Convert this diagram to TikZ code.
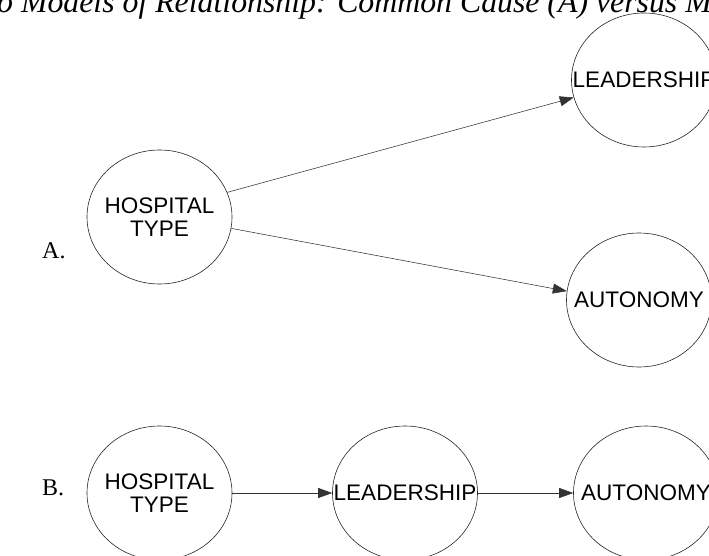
\documentclass[tikz,border=0pt]{standalone}
\usepackage{fontspec}
\setmainfont{Liberation Serif}
\newfontfamily\arialf{Liberation Sans}
\usetikzlibrary{shapes.geometric,arrows.meta}
\begin{document}
\begin{tikzpicture}[x=1pt,y=-1pt,
  var/.style={ellipse,draw=black!85,line width=0.6pt,minimum width=145pt,minimum height=134pt,inner sep=0pt},
  vtext/.style={font=\arialf\fontsize{22.5}{22.5}\selectfont,align=center,inner sep=0pt},
  link/.style={draw=black!80,line width=0.55pt,-{Triangle[length=14pt,width=10pt]}},
  lbl/.style={font=\fontsize{24}{24}\selectfont,anchor=base west,inner sep=0pt}]
\useasboundingbox (0,0) rectangle (709,556);
\clip (0,0) rectangle (709,556);
\node[anchor=base west,inner sep=0pt,font=\itshape\fontsize{31.8}{31.8}\selectfont] (title) at (-3,13) {o Models of Relationship: Common Cause (A) versus M};
% A
\node[var,label={[vtext]center:HOSPITAL\\TYPE}] (hA) at (159.5,217) {};
\node[var,label={[vtext]center:LEADERSHIP}] (lA) at (644,80) {};
\node[var,label={[vtext]center:AUTONOMY}] (aA) at (639,300) {};
\draw[link] (hA.20) -- (lA.194);
\draw[link] (hA.-9) -- (aA.173);
\node[lbl] (labA) at (42,258) {A.};
% B
\node[var,label={[vtext]center:HOSPITAL\\TYPE}] (hB) at (159.5,493) {};
\node[var,label={[vtext]center:LEADERSHIP}] (lB) at (405,493) {};
\node[var,label={[vtext]center:AUTONOMY}] (aB) at (646,493) {};
\draw[link] (hB.east) -- (lB.west);
\draw[link] (lB.east) -- (aB.west);
\node[lbl] (labB) at (42,495) {B.};
\end{tikzpicture}
\end{document}
